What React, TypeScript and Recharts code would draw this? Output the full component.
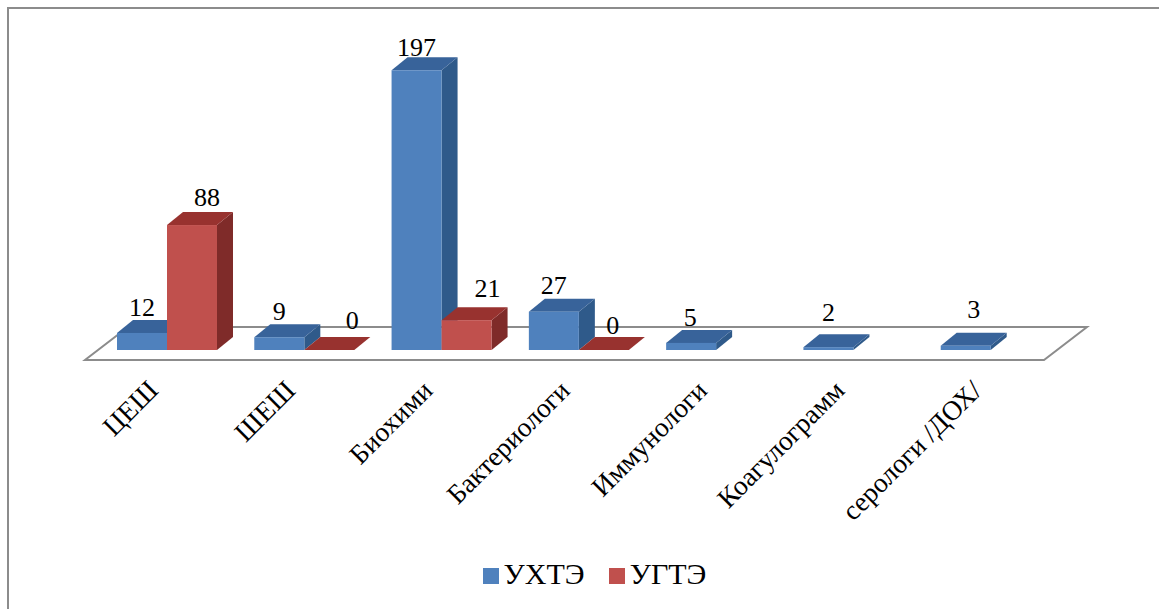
import React from 'react';
import { BarChart, Bar, XAxis, YAxis, Legend, LabelList, usePlotArea } from 'recharts';

const CATEGORIES = ['ЦЕШ', 'ШЕШ', 'Биохими', 'Бактериологи', 'Иммунологи', 'Коагулограмм', 'серологи /ДОХ/'];
const UHTE = [12, 9, 197, 27, 5, 2, 3];
const UGTE = [88, 0, 21, 0, null, null, null];

const DATA = CATEGORIES.map((name, i) => ({ name, uhte: UHTE[i], ugte: UGTE[i] }));

// hand-placed data labels in the original, [dx, extra lift] per bar
const UHTE_NUDGE = [[0, 0], [0, 0], [0, -3], [0, 1], [-1, 0], [0, 9], [8, 11]];
const UGTE_NUDGE = [[15, 2], [23, 4], [21, 6], [9, -1]];

const DEPTH_X = 16;
const DEPTH_Y = 13;
const FONT = '"Liberation Serif", serif';

const Box3D = ({ x, y, width, height, front, top, side }: any) => {
  const b = y + height;
  const r = x + width;
  return (
    <g>
      <path d={`M${r},${y} L${r + DEPTH_X},${y - DEPTH_Y} L${r + DEPTH_X},${b - DEPTH_Y} L${r},${b} Z`} fill={side} />
      <path d={`M${x},${y} L${x + DEPTH_X},${y - DEPTH_Y} L${r + DEPTH_X},${y - DEPTH_Y} L${r},${y} Z`} fill={top} />
      <rect x={x} y={y} width={width} height={height} fill={front} />
    </g>
  );
};

const Floor = () => {
  const plot = usePlotArea();
  if (!plot) return null;
  const base = plot.y + plot.height;
  const left = plot.x - 13;
  const right = plot.x + plot.width - 15;
  return (
    <path
      d={`M${left},${base + 10} L${right},${base + 10} L${right + 43},${base - 23} L${left + 43},${base - 23} Z`}
      fill="none"
      stroke="#8c8c8c"
      strokeWidth={2}
    />
  );
};

const CategoryTick = ({ x, payload }: any) => {
  const ax = x - 7;
  const ay = 392;
  return (
    <text
      x={ax}
      y={ay}
      textAnchor="end"
      transform={`rotate(-45 ${ax} ${ay})`}
      fontFamily={FONT}
      fontSize={27.5}
      fill="#000"
    >
      {payload.value}
    </text>
  );
};

const valueLabel = (nudge: number[][]) => (props: any) => {
  const { x, y, width, value, index } = props;
  if (value === null || value === undefined) return null;
  const [dx, lift] = nudge[index] || [0, 0];
  return (
    <text
      x={x + width / 2 + dx}
      y={y - 17 - lift}
      textAnchor="middle"
      fontFamily={FONT}
      fontSize={26}
      fill="#000"
    >
      {value}
    </text>
  );
};

export default function App() {
  return (
    <div style={{ position: 'absolute', left: 0, top: 0, width: 1159, height: 609, background: '#fff', overflow: 'hidden' }}>
      <div style={{ position: 'absolute', left: 7, top: 7, width: 1160, height: 610, borderLeft: '2px solid #8c8c8c', borderTop: '2px solid #8c8c8c' }} />
      <BarChart
        width={1159}
        height={609}
        data={DATA}
        barSize={50}
        barGap={0}
        margin={{ top: 66, right: 100, left: 98, bottom: 26 }}
        style={{ position: 'absolute', left: 0, top: 0 }}
      >
        <Floor />
        <XAxis dataKey="name" axisLine={false} tickLine={false} height={203} interval={0} tick={<CategoryTick />} />
        <YAxis hide domain={[0, 200]} />
        <Legend
          verticalAlign="bottom"
          height={30}
          iconType="square"
          iconSize={16}
          itemSorter={null}
          wrapperStyle={{ left: 126 }}
          formatter={(v: string) => (
            <span style={{ color: '#000', fontFamily: FONT, fontSize: 30, marginLeft: 1, marginRight: 14, position: 'relative', top: 4 }}>{v}</span>
          )}
        />
        <Bar
          dataKey="uhte"
          name="УХТЭ"
          fill="#4f81bd"
          isAnimationActive={false}
          shape={(p: any) => <Box3D {...p} front="#4f81bd" top="#38639a" side="#2f5a8a" />}
        >
          <LabelList dataKey="uhte" content={valueLabel(UHTE_NUDGE)} />
        </Bar>
        <Bar
          dataKey="ugte"
          name="УГТЭ"
          fill="#c0504d"
          isAnimationActive={false}
          shape={(p: any) => <Box3D {...p} front="#c0504d" top="#98322f" side="#7f2b29" />}
        >
          <LabelList dataKey="ugte" content={valueLabel(UGTE_NUDGE)} />
        </Bar>
      </BarChart>
    </div>
  );
}
